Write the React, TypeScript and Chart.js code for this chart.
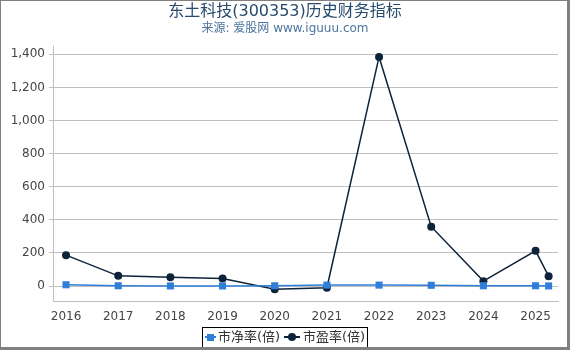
import React, { useEffect, useRef } from "react";
import { Chart, registerables } from "chart.js";

Chart.register(...registerables);

const TITLE = "东土科技(300353)历史财务指标";
const SUBTITLE = "来源: 爱股网 www.iguuu.com";
const YEARS = [2016, 2017, 2018, 2019, 2020, 2021, 2022, 2023, 2024, 2025, 2025.25];
const PB = [8, 2, 1, 1, 2, 6, 6, 5, 2, 2, 1];
const PE = [187, 62, 54, 46, -19, -10, 1384, 359, 30, 213, 60];
const X_TICKS = [2016, 2017, 2018, 2019, 2020, 2021, 2022, 2023, 2024, 2025];
const Y_TICKS = [0, 200, 400, 600, 800, 1000, 1200, 1400];
const SERIES_NAMES = ["市净率(倍)", "市盈率(倍)"];
const COLORS = ["#2f7ed8", "#0d233a"];

const FONT = "'DejaVu Sans', 'Noto Sans CJK SC', sans-serif";

const decorPlugin = {
  id: "decor",
  afterDraw(chart: any) {
    const ctx = chart.ctx as CanvasRenderingContext2D;
    ctx.save();
    // titles
    ctx.textAlign = "center";
    ctx.textBaseline = "middle";
    ctx.fillStyle = "#274b6d";
    ctx.font = `16px ${FONT}`;
    ctx.fillText(TITLE, 285, 12);
    ctx.fillStyle = "#4d759e";
    ctx.font = `12px ${FONT}`;
    ctx.fillText(SUBTITLE, 285, 29);

    // legend
    ctx.strokeStyle = "#000";
    ctx.lineWidth = 1;
    ctx.strokeRect(202.5, 327.5, 165, 20);
    const ly = 337;
    ctx.font = `13px ${FONT}`;
    ctx.textAlign = "left";
    // item 1
    ctx.strokeStyle = COLORS[0];
    ctx.lineWidth = 2;
    ctx.beginPath();
    ctx.moveTo(205, ly);
    ctx.lineTo(216, ly);
    ctx.stroke();
    ctx.fillStyle = COLORS[0];
    ctx.fillRect(207, ly - 3, 7, 7);
    ctx.fillStyle = "#333";
    ctx.fillText(SERIES_NAMES[0], 218, ly + 1);
    // item 2
    ctx.strokeStyle = COLORS[1];
    ctx.beginPath();
    ctx.moveTo(284, ly);
    ctx.lineTo(300, ly);
    ctx.stroke();
    ctx.fillStyle = COLORS[1];
    ctx.beginPath();
    ctx.arc(292, ly, 4, 0, Math.PI * 2);
    ctx.fill();
    ctx.fillStyle = "#333";
    ctx.fillText(SERIES_NAMES[1], 303, ly + 1);

    // frame
    ctx.fillStyle = "#808080";
    ctx.fillRect(0, 0, 570, 1);
    ctx.fillRect(0, 0, 1, 350);
    ctx.fillRect(567, 0, 3, 350);
    ctx.fillRect(0, 347, 570, 3);
    ctx.restore();
  },
};

export default function App() {
  const ref = useRef<HTMLCanvasElement | null>(null);
  useEffect(() => {
    document.body.style.margin = "0";
    const canvas = ref.current;
    if (!canvas) return;
    const chart = new Chart(canvas, {
      type: "line",
      data: {
        datasets: [
          {
            label: SERIES_NAMES[0],
            data: YEARS.map((x, i) => ({ x, y: PB[i] })),
            borderColor: COLORS[0],
            backgroundColor: COLORS[0],
            borderWidth: 1.5,
            pointStyle: "rect",
            pointRadius: 5,
            pointBorderWidth: 0,
            tension: 0,
          },
          {
            label: SERIES_NAMES[1],
            data: YEARS.map((x, i) => ({ x, y: PE[i] })),
            borderColor: COLORS[1],
            backgroundColor: COLORS[1],
            borderWidth: 1.5,
            pointStyle: "circle",
            pointRadius: 4,
            pointBorderWidth: 0,
            tension: 0,
          },
        ],
      },
      options: {
        animation: false,
        responsive: false,
        devicePixelRatio: 1,
        layout: { padding: { left: 0, right: 12, top: 46, bottom: 19 } },
        plugins: {
          legend: { display: false },
          title: { display: false },
          tooltip: { enabled: false },
        },
        scales: {
          x: {
            type: "linear",
            min: 2015.75,
            max: 2025.43,
            afterBuildTicks: (s: any) => {
              s.ticks = X_TICKS.map((v) => ({ value: v }));
            },
            afterFit: (s: any) => {
              s.height = 30;
            },
            grid: { display: false, drawTicks: false },
            border: { display: true, color: "#c0c0c0", width: 1 },
            ticks: {
              color: "#444",
              font: { family: FONT, size: 12 },
              padding: 9,
              maxRotation: 0,
              autoSkip: false,
              callback: (v: any) => String(v),
            },
          },
          y: {
            type: "linear",
            min: -90,
            max: 1450,
            afterBuildTicks: (s: any) => {
              s.ticks = Y_TICKS.map((v) => ({ value: v }));
            },
            afterFit: (s: any) => {
              s.width = 53;
            },
            grid: { color: "#c0c0c0", lineWidth: 1, tickLength: 4 },
            border: { display: true, color: "#c0c0c0", width: 1 },
            ticks: {
              color: "#444",
              font: { family: FONT, size: 12 },
              padding: 4,
              callback: (v: any) => Number(v).toLocaleString("en-US"),
            },
          },
        },
      },
      plugins: [decorPlugin],
    });
    return () => chart.destroy();
  }, []);
  return (
    <div style={{ width: 570, height: 350, background: "#fff" }}>
      <canvas ref={ref} width={570} height={350} style={{ display: "block" }} />
    </div>
  );
}
